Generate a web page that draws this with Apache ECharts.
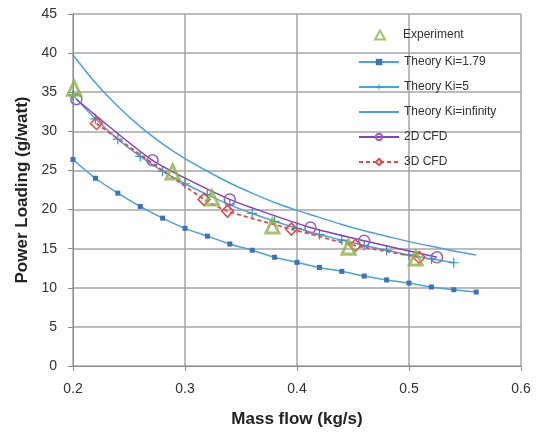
<!DOCTYPE html>
<html>
<head>
<meta charset="utf-8">
<script src="https://cdn.jsdelivr.net/npm/echarts@6/dist/echarts.min.js"></script>
<style>
html,body{margin:0;padding:0;background:#fff;}
#c{width:536px;height:441px;}
</style>
</head>
<body>
<div id="c"></div>
<script>
// Theory Ki=1.79
const ki179X = [0.20,0.22,0.24,0.26,0.28,0.30,0.32,0.34,0.36,0.38,0.40,0.42,0.44,0.46,0.48,0.50,0.52,0.54,0.56];
const ki179Y = [26.4,24.0,22.1,20.4,18.9,17.6,16.6,15.6,14.8,13.9,13.25,12.6,12.1,11.5,11.0,10.6,10.1,9.75,9.45];
// Theory Ki=5
const ki5X = [0.20,0.22,0.24,0.26,0.28,0.30,0.32,0.34,0.36,0.38,0.40,0.42,0.44,0.46,0.48,0.50,0.52,0.54];
const ki5Y = [34.6,31.6,29.0,26.8,24.9,23.3,21.9,20.6,19.5,18.5,17.6,16.8,16.1,15.4,14.8,14.2,13.7,13.2];
// Theory Ki=infinity
const kiInfX = [0.20,0.22,0.24,0.26,0.28,0.30,0.32,0.34,0.36,0.38,0.40,0.42,0.44,0.46,0.48,0.50,0.52,0.54,0.56];
const kiInfY = [39.8,36.2,33.2,30.6,28.4,26.5,24.9,23.4,22.1,20.9,19.9,19.0,18.1,17.3,16.6,15.9,15.3,14.7,14.2];
// Experiment
const expX = [0.201,0.289,0.324,0.378,0.446,0.506];
const expY = [35.5,24.8,21.5,17.9,15.2,13.8];
// 2D CFD
const cfd2X = [0.203,0.271,0.340,0.412,0.460,0.525];
const cfd2Y = [34.1,26.3,21.3,17.7,16.0,13.9];
// 3D CFD
const cfd3X = [0.221,0.317,0.338,0.395,0.452,0.509];
const cfd3Y = [31.0,21.3,19.8,17.5,15.4,13.9];
// Ticks
const xTicks = {min:0.2, max:0.6, interval:0.1};
const yTicks = {min:0, max:45, interval:5};

const pair = (xs, ys) => xs.map((x, i) => [x, ys[i]]);

const theoryBlue = '#4aa3dc';
const plusPath = 'path://M4.4,0h1.2v10h-1.2z M0,4.4h10v1.2h-10z';
const FONT = 'Liberation Sans';
const legendText = {fontSize:12, color:'#333', fontFamily:FONT};

const chart = echarts.init(document.getElementById('c'), null, {renderer:'canvas'});
chart.setOption({
  animation:false,
  backgroundColor:'#ffffff',
  textStyle:{fontFamily:FONT},
  grid:{left:73, right:15, top:14, bottom:75, containLabel:false},
  legend:[
    {
      orient:'vertical', left:374, top:29, padding:0,
      itemWidth:10, itemHeight:9,
      textStyle:Object.assign({padding:[0,0,0,13]}, legendText),
      data:['Experiment']
    },
    {
      orient:'vertical', left:358, top:56, padding:0,
      itemWidth:40, itemHeight:8, itemGap:13,
      textStyle:legendText,
      data:['Theory Ki=1.79','Theory Ki=5',
            {name:'Theory Ki=infinity', itemStyle:{opacity:0}},
            '2D CFD','3D CFD']
    }
  ],
  xAxis:{
    type:'value', min:xTicks.min, max:xTicks.max, interval:xTicks.interval,
    name:'Mass flow (kg/s)', nameLocation:'middle', nameGap:45,
    nameTextStyle:{fontSize:17, fontWeight:'bold', color:'#222', fontFamily:FONT},
    axisLine:{show:true, lineStyle:{color:'#8c8c8c', width:1}},
    axisTick:{show:true, inside:false, length:5, lineStyle:{color:'#8c8c8c'}},
    axisLabel:{fontSize:14, color:'#333', margin:16, formatter:v=>v.toFixed(1)},
    splitLine:{show:true, lineStyle:{color:'#a6a6a6', width:1.5}}
  },
  yAxis:{
    type:'value', min:yTicks.min, max:yTicks.max, interval:yTicks.interval,
    name:'Power Loading (g/watt)', nameLocation:'middle', nameGap:37,
    nameTextStyle:{fontSize:17, fontWeight:'bold', color:'#222', fontFamily:FONT},
    axisLine:{show:true, lineStyle:{color:'#8c8c8c', width:1}},
    axisTick:{show:true, inside:false, length:5, lineStyle:{color:'#8c8c8c'}},
    axisLabel:{fontSize:14, color:'#333', margin:16},
    splitLine:{show:true, lineStyle:{color:'#a6a6a6', width:1.5}}
  },
  series:[
    {
      name:'Theory Ki=1.79', type:'line', smooth:0.3,
      data:pair(ki179X, ki179Y),
      symbol:'rect', symbolSize:5, showSymbol:true,
      lineStyle:{color:theoryBlue, width:1.5},
      itemStyle:{color:'#3d72b8'}, z:2
    },
    {
      name:'Theory Ki=5', type:'line', smooth:0.3,
      data:pair(ki5X, ki5Y),
      symbol:plusPath, symbolSize:10, showSymbol:true,
      lineStyle:{color:theoryBlue, width:1.5},
      itemStyle:{color:'#2a9cc0'}, z:2
    },
    {
      name:'Theory Ki=infinity', type:'line', smooth:0.3,
      data:pair(kiInfX, kiInfY),
      symbol:'none', showSymbol:false,
      lineStyle:{color:theoryBlue, width:1.5},
      itemStyle:{color:theoryBlue}, z:2
    },
    {
      name:'2D CFD', type:'line', smooth:0.2,
      data:pair(cfd2X, cfd2Y),
      symbol:'circle', symbolSize:11, showSymbol:true,
      lineStyle:{color:'#8a3fbf', width:1.5},
      itemStyle:{color:'rgba(255,255,255,0)', borderColor:'#9461c6', borderWidth:1.5}, z:3
    },
    {
      name:'3D CFD', type:'line', smooth:0.2,
      data:pair(cfd3X, cfd3Y),
      symbol:'diamond', symbolSize:12, showSymbol:true,
      lineStyle:{color:'#e8474a', width:1.8, type:[4,3]},
      itemStyle:{color:'rgba(255,255,255,0)', borderColor:'#e8474a', borderWidth:1.5}, z:3
    },
    {
      name:'Experiment', type:'scatter',
      data:pair(expX, expY),
      symbol:'triangle', symbolSize:[13,14],
      itemStyle:{color:'rgba(255,255,255,0)', borderColor:'#8fb24a', borderWidth:3}, z:4
    }
  ]
});
</script>
</body>
</html>
